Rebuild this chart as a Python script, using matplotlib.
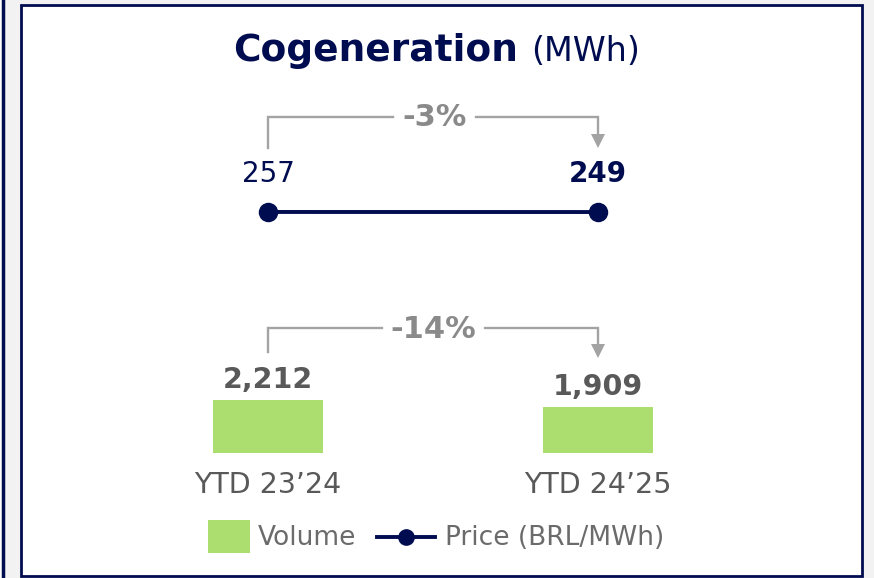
import matplotlib.pyplot as plt
from matplotlib.patches import Rectangle, Polygon

categories = ["YTD 23’24", "YTD 24’25"]
volume = [2212, 1909]
price = [257, 249]
price_change = "-3%"
volume_change = "-14%"

NAVY = "#000c50"
GREEN = "#abdd6f"
DARK = "#595959"
LINE_GREY = "#a3a3a3"
PCT_GREY = "#8a8a8a"

plt.rcParams['font.family'] = ['DejaVu Sans']

W, H = 874, 578
X0, X1 = 268, 598  # pixel centres of the two periods

fig = plt.figure(figsize=(W / 100, H / 100), dpi=100)
fig.patch.set_facecolor("#f2f2f2")

# pixel space for the panel frame and annotations
bg = fig.add_axes([0, 0, 1, 1])
bg.set_xlim(0, W)
bg.set_ylim(H, 0)
bg.axis("off")
bg.add_patch(Rectangle((-5, -5), 8, H + 10, facecolor="white", edgecolor="none"))
bg.plot([3, 3], [-5, H + 5], color=NAVY, lw=2.5)
bg.add_patch(Rectangle((20.5, 5), 841.5, 571, facecolor="white", edgecolor=NAVY, lw=2))

# title
bg.text(233, 61, "Cogeneration", fontsize=27, fontweight="bold", color=NAVY, va="baseline", ha="left")
bg.text(531, 61, "(MWh)", fontsize=24, color=NAVY, va="baseline", ha="left")


def bracket(y_top, y_left, y_tip, gap, label, size):
    bg.plot([X0, X0, gap[0]], [y_left, y_top, y_top], color=LINE_GREY, lw=1.7, solid_joinstyle="miter")
    bg.plot([gap[1], X1, X1], [y_top, y_top, y_tip - 12], color=LINE_GREY, lw=1.7, solid_joinstyle="miter")
    bg.add_patch(Polygon([[X1 - 7, y_tip - 14], [X1 + 7, y_tip - 14], [X1, y_tip]],
                         closed=True, facecolor=LINE_GREY, edgecolor="none"))
    bg.text((gap[0] + gap[1]) / 2, y_top + 1, label, fontsize=size, fontweight="bold",
            color=PCT_GREY, ha="center", va="center")


bracket(117, 148, 148, (393, 476), price_change, 22)
bracket(328, 352, 358, (382, 485), volume_change, 22)

# volume bars
axb = fig.add_axes([(X0 - 165) / W, (H - 453) / H, 660 / W, 100 / H])
axb.bar(range(len(volume)), volume, width=1 / 3, color=GREEN)
axb.set_xlim(-0.5, 1.5)
axb.set_ylim(0, 2212 * 100 / 53)
axb.axis("off")
for i, v in enumerate(volume):
    axb.annotate(f"{v:,}", (i, v), xytext=(0, 9), textcoords="offset points",
                 ha="center", va="baseline", fontsize=20.5, fontweight="bold", color=DARK)
    axb.annotate(categories[i], (i, 0), xytext=(0, -28.5), textcoords="offset points",
                 ha="center", va="baseline", fontsize=20.5, color=DARK)

# price dumbbell
axp = fig.add_axes([(X0 - 165) / W, (H - 232) / H, 660 / W, 40 / H])
mid = sum(price) / len(price)
axp.plot(range(len(price)), price, color=NAVY, lw=2.8, marker="o", markersize=13)
axp.set_xlim(-0.5, 1.5)
axp.set_ylim(mid - 3000, mid + 3000)
axp.axis("off")
for i, p in enumerate(price):
    axp.annotate(str(p), (i, p), xytext=(0, 27.5), textcoords="offset points",
                 ha="center", va="center", fontsize=20, color=NAVY,
                 fontweight="bold" if i == len(price) - 1 else "normal")

# legend
bg.add_patch(Rectangle((208, 520), 42, 33, facecolor=GREEN, edgecolor="none"))
bg.text(258, 538, "Volume", fontsize=19, color="#6b6b6b", va="center", ha="left")
bg.plot([377, 435], [537, 537], color=NAVY, lw=2.8)
bg.plot([406], [537], marker="o", markersize=11, color=NAVY)
bg.text(445, 538, "Price (BRL/MWh)", fontsize=19, color="#6b6b6b", va="center", ha="left")

fig.savefig("out.png", dpi=100, facecolor=fig.get_facecolor())
